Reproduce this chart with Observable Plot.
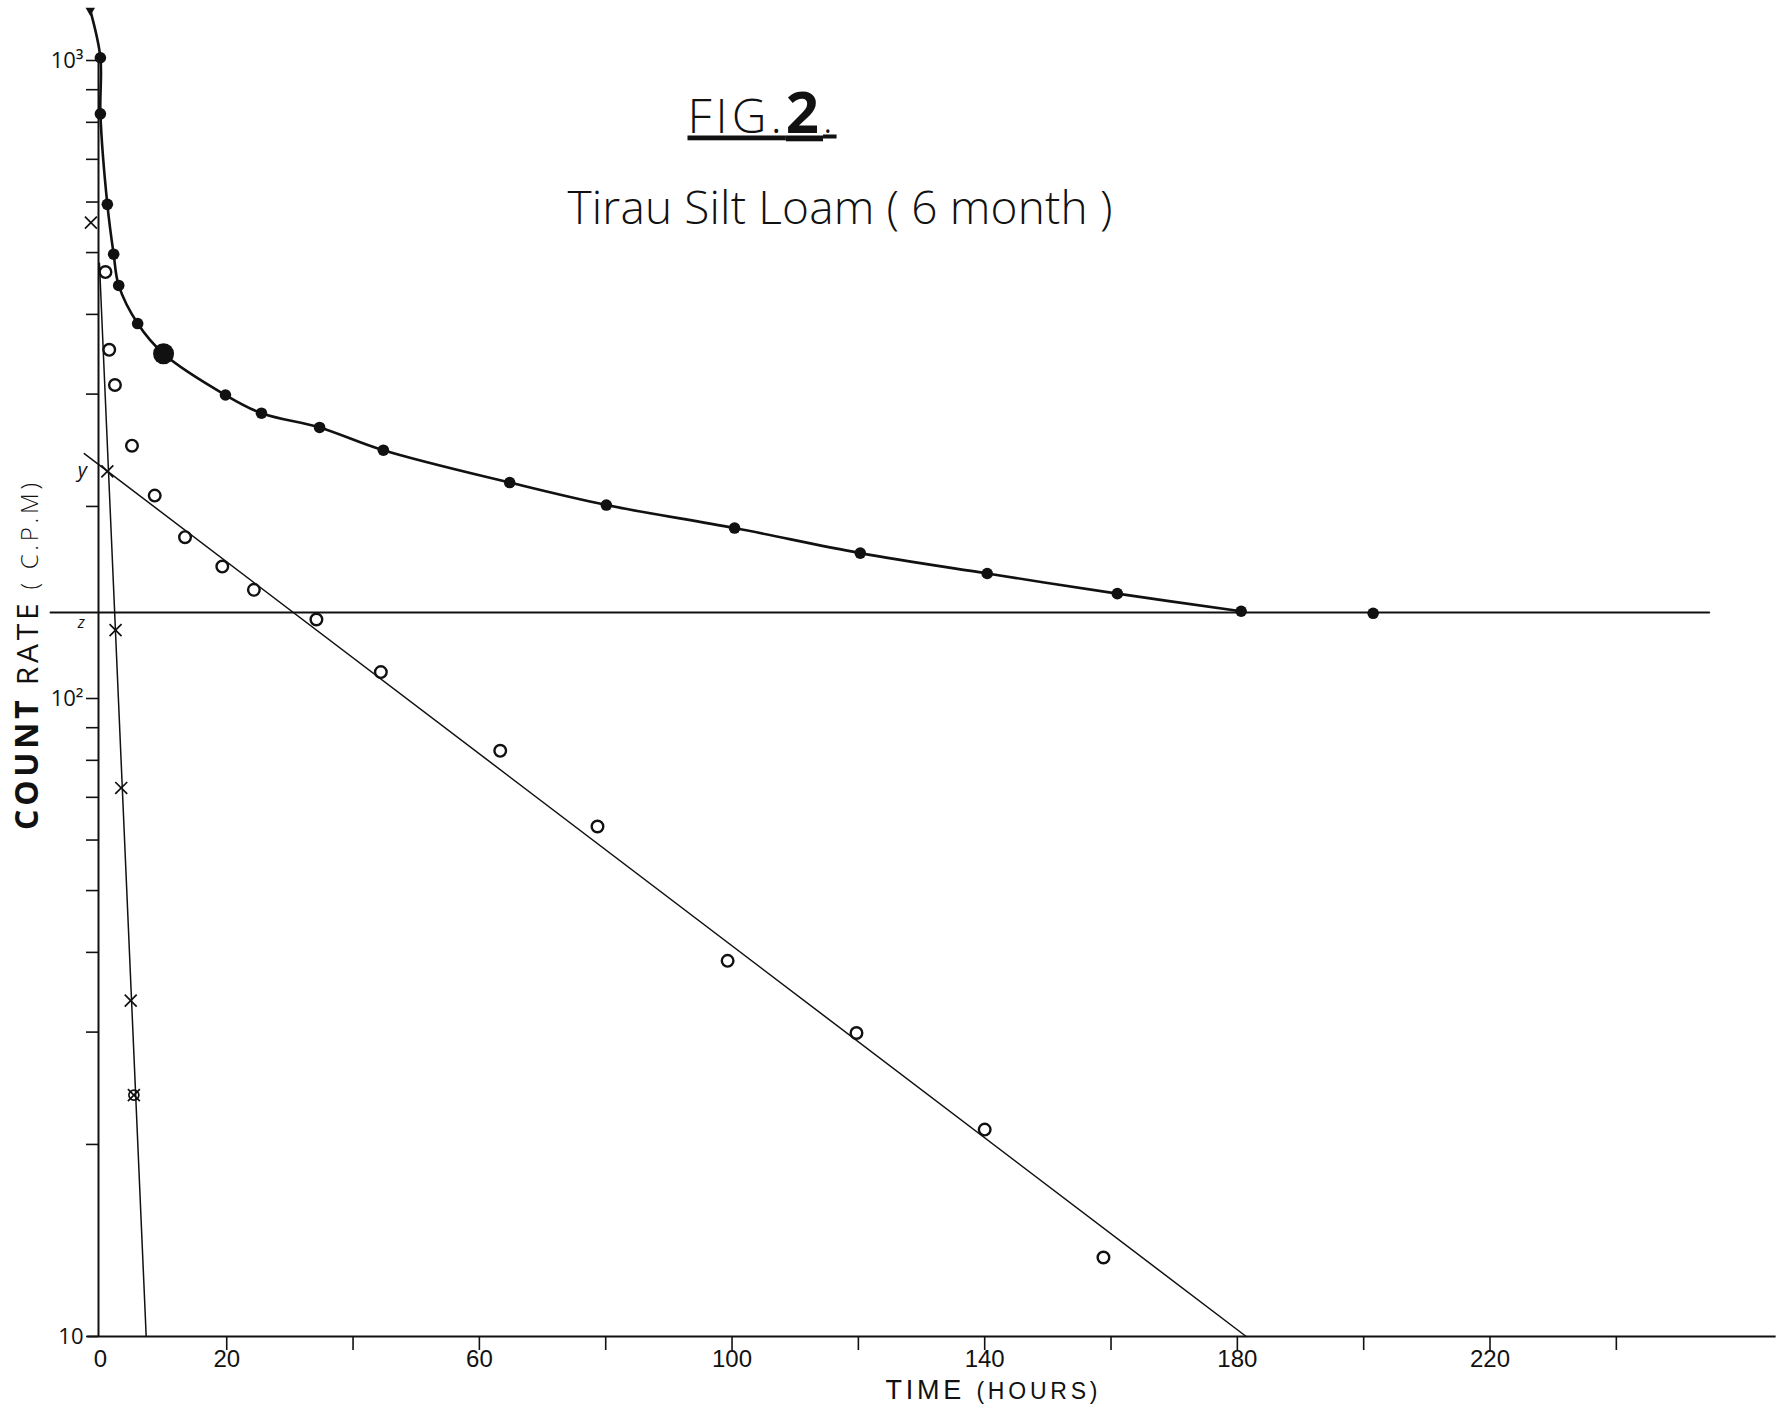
<!DOCTYPE html>
<html>
<head>
<meta charset="utf-8">
<script src="https://cdn.jsdelivr.net/npm/d3@7"></script>
<script src="https://cdn.jsdelivr.net/npm/@observablehq/plot@0.6"></script>
<style>
  html, body { margin: 0; padding: 0; background: #fff; }
  #chart svg { display: block; }
</style>
</head>
<body>
<div id="chart"></div>
<script>
// ---------- data ----------
// total activity (filled dots), hours / counts per minute
const totalTime = [0, 0, 1.1, 2.1, 2.9, 5.9, 10, 19.8, 25.5, 34.7, 44.8, 64.8, 80.1, 100.4, 120.3, 140.4, 161, 180.6, 201.5];
const totalRate = [1010, 825, 595, 497, 444, 387, 347, 299, 280, 266, 245, 218, 201, 185, 169, 157, 146, 137, 136];
// start of the hand-drawn curve (small arrow head at the top)
const curveStartTime = [-1.6];
const curveStartRate = [1198];
// residual after subtracting the long-lived component (open circles)
const residualTime = [0.8, 1.4, 2.3, 5.0, 8.6, 13.4, 19.3, 24.3, 34.2, 44.4, 63.3, 78.7, 99.3, 119.7, 140, 158.8];
const residualRate = [466, 352, 310, 249, 208, 179, 161, 148, 133, 110, 82.8, 63, 38.8, 29.9, 21.1, 13.3];
// short-lived component (crosses)
const shortTime = [-1.5, 1.1, 2.4, 3.3, 4.8, 5.3];
const shortRate = [557, 227, 128, 72.4, 33.6, 23.9];
// fitted straight lines (end points as drawn)
const longFitTime = [-2.55, 181.4];
const longFitRate = [242, 10];
const shortFitTime = [-0.15, 7.25];
const shortFitRate = [481, 10];
// horizontal plateau line "z"
const plateauTime = [-7.9, 254.7];
const plateauRate = 136.4;

// axes
const xDomain = [-0.3, 250];
const yDomain = [10, 1000];
const xAxisEnd = 265.3;
const yAxisTop = 1000;
const xTickValues = [20, 40, 60, 80, 100, 120, 140, 160, 180, 200, 220, 240];
const xLabelValues = [0, 20, 60, 100, 140, 180, 220];
const yTickValues = [10, 20, 30, 40, 50, 60, 70, 80, 90, 100, 200, 300, 400, 500, 600, 700, 800, 900, 1000];
const yLabelValues = [10, 100, 1000];
const yLabelTexts = ["10", "10²", "10³"];

// texts
const titleParts = ["FIG.", "2", "."];
const subtitle = "Tirau Silt Loam ( 6 month )";
const xTitleParts = ["TIME ", "(HOURS)"];
const yTitleParts = ["COUNT", " RATE", " ( C.P.M)"];
const lineLabelY = "y";
const lineLabelZ = "z";

// ---------- build tables ----------
const total = totalTime.map((t, i) => ({t, v: totalRate[i]}));
const curveStart = curveStartTime.map((t, i) => ({t, v: curveStartRate[i]}));
const curvePts = curveStart.concat(total.filter(d => d.t <= 181));
const residual = residualTime.map((t, i) => ({t, v: residualRate[i]}));
const shortPts = shortTime.map((t, i) => ({t, v: shortRate[i]}));
const longFit = longFitTime.map((t, i) => ({t, v: longFitRate[i]}));
const shortFit = shortFitTime.map((t, i) => ({t, v: shortFitRate[i]}));
const plateau = plateauTime.map(t => ({t, v: plateauRate}));
const yLabelMap = new Map(yLabelValues.map((v, i) => [v, yLabelTexts[i]]));
// intercept of the long fitted line at t = 0 (log-linear interpolation)
const lf0 = Math.log10(longFit[0].v), lf1 = Math.log10(longFit[1].v);
const interceptY = 10 ** (lf0 + (0 - longFit[0].t) / (longFit[1].t - longFit[0].t) * (lf1 - lf0));

const FONT = "'Open Sans', 'DejaVu Sans', sans-serif";
const TICKFONT = "'Liberation Sans', Arial, sans-serif";
const INK = "#111";

const plot = Plot.plot({
  width: 1776,
  height: 1404,
  marginLeft: 98,
  marginRight: 97,
  marginTop: 60,
  marginBottom: 68,
  style: {fontFamily: FONT, color: INK, background: "#fff"},
  x: {domain: xDomain},
  y: {type: "log", domain: yDomain},
  marks: [
    // axis lines
    Plot.ruleX([xDomain[0]], {y1: yDomain[0], y2: yAxisTop, stroke: INK, strokeWidth: 2}),
    Plot.ruleY([yDomain[0]], {x1: -2, x2: xAxisEnd, stroke: INK, strokeWidth: 2}),
    // ticks
    Plot.axisY({ticks: yTickValues, tickSize: 12, tickPadding: 3, strokeWidth: 1.6, fontSize: 22,
      fontWeight: 400, tickFormat: d => yLabelMap.get(d) ?? "", label: null}),
    Plot.axisX({ticks: xTickValues, tickSize: 14, strokeWidth: 1.6, fill: "none", label: null}),
    Plot.axisX({ticks: xLabelValues, tickSize: 0, tickPadding: 13, fontSize: 24, fontWeight: 400,
      fontFamily: TICKFONT, tickFormat: d => String(d), label: null}),

    // plateau line
    Plot.line(plateau, {x: "t", y: "v", stroke: INK, strokeWidth: 2}),
    // fitted lines
    Plot.line(longFit, {x: "t", y: "v", stroke: INK, strokeWidth: 1.5}),
    Plot.line(shortFit, {x: "t", y: "v", stroke: INK, strokeWidth: 1.5}),
    // total-activity curve
    Plot.line(curvePts, {x: "t", y: "v", curve: "catmull-rom", stroke: INK, strokeWidth: 2.6}),
    Plot.dot(curveStart, {x: "t", y: "v", symbol: "triangle", rotate: 180, r: 3.5, fill: INK}),

    // points
    Plot.dot(total, {filter: d => d.t !== 10, x: "t", y: "v", r: 5.8, fill: INK}),
    Plot.dot(total, {filter: d => d.t === 10, x: "t", y: "v", r: 10.5, fill: INK}),
    Plot.dot(residual, {x: "t", y: "v", r: 5.8, stroke: INK, strokeWidth: 2.4, fill: "none"}),
    Plot.dot(shortPts, {x: "t", y: "v", symbol: "times", r: 5.5, stroke: INK, strokeWidth: 1.7}),
    Plot.dot(shortPts.slice(-1), {x: "t", y: "v", r: 5, stroke: INK, strokeWidth: 1.7, fill: "none"}),

    // small line labels
    Plot.text([lineLabelY], {x: 0, y: interceptY, text: d => d, dx: -18, dy: 5, fontSize: 20,
      fontStyle: "italic", fill: INK}),
    Plot.text([lineLabelZ], {x: 0, y: plateauRate, text: d => d, dx: -19, dy: 10, fontSize: 16,
      fontStyle: "italic", fill: INK}),

    // titles
    Plot.text([titleParts.join("")], {frameAnchor: "top-left", dx: 589, dy: 72, text: d => d,
      textAnchor: "start", lineAnchor: "bottom", fontSize: 48, fontWeight: 300, fill: INK}),
    Plot.text([subtitle], {frameAnchor: "top-left", dx: 469, dy: 163, text: d => d,
      textAnchor: "start", lineAnchor: "bottom", fontSize: 46, fontWeight: 300, fill: INK}),
    Plot.text([xTitleParts.join("")], {frameAnchor: "bottom-left", dx: 787, dy: 62, text: d => d,
      textAnchor: "start", lineAnchor: "bottom", fontSize: 27, fontWeight: 400, fontFamily: TICKFONT, fill: INK}),
    Plot.text([yTitleParts.join("")], {frameAnchor: "left", dx: -70, dy: -42, text: d => d,
      rotate: -90, textAnchor: "middle", lineAnchor: "middle", fontSize: 30, fill: INK})
  ]
});

document.getElementById("chart").append(plot);

// rich text styling (mixed weights / sizes) and hand-lettered widths
function rich(whole, parts, opts = {}) {
  d3.select(plot).selectAll("text")
    .filter(function () { return this.textContent === whole; })
    .each(function () {
      const t = d3.select(this);
      t.text(null);
      for (const p of parts) {
        const s = t.append("tspan").text(p.text);
        if (p.weight) s.attr("font-weight", p.weight);
        if (p.size) s.attr("font-size", p.size);
      }
      if (opts.length) t.attr("textLength", opts.length).attr("lengthAdjust", "spacing");
      if (opts.spacing) t.attr("letter-spacing", opts.spacing);
      if (opts.underline) t.style("text-decoration", "underline");
    });
}
rich(titleParts.join(""), [
  {text: titleParts[0], weight: 300, size: 48},
  {text: titleParts[1], weight: 700, size: 58},
  {text: titleParts[2], weight: 300, size: 40}
], {spacing: 4, underline: true});
rich(subtitle, [{text: subtitle}], {length: 545});
rich(xTitleParts.join(""), [
  {text: xTitleParts[0], weight: 400, size: 27},
  {text: xTitleParts[1], weight: 400, size: 23}
], {length: 212});
rich(yTitleParts.join(""), [
  {text: yTitleParts[0], weight: 700, size: 32},
  {text: yTitleParts[1], weight: 400, size: 30},
  {text: yTitleParts[2], weight: 300, size: 24}
], {length: 347});
</script>
</body>
</html>
